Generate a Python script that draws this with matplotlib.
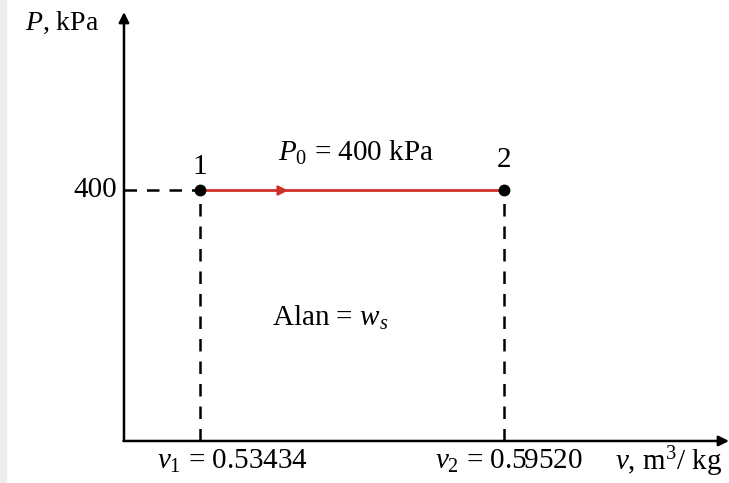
import matplotlib.pyplot as plt

plt.rcParams['font.family'] = ['Liberation Serif', 'DejaVu Serif']
plt.rcParams['mathtext.fontset'] = 'custom'
plt.rcParams['mathtext.rm'] = 'Liberation Serif'
plt.rcParams['mathtext.it'] = 'Liberation Serif:italic'

# state points
v_states = [0.53434, 0.59520]
P_states = [400, 400]
state_names = ['1', '2']
P0 = 400

v_origin = 0.51912
v_lo, v_hi = 0.49430, 0.64025
P_lo, P_hi = -67.1, 704.2

fig = plt.figure(figsize=(7.29, 4.83), dpi=100)
ax = fig.add_axes([0, 0, 1, 1])
ax.set_xlim(v_lo, v_hi)
ax.set_ylim(P_lo, P_hi)
ax.axis('off')

# scan edge
fig.patches.append(plt.Rectangle((0, 0), 0.008, 1, transform=fig.transFigure,
                                 color='#ececec', zorder=0))

# axes with arrows
ax.annotate('', xy=(v_origin, 685), xytext=(v_origin, 0),
            arrowprops=dict(arrowstyle='-|>', color='black', lw=1.8,
                            mutation_scale=15, shrinkA=0, shrinkB=0))
ax.annotate('', xy=(v_hi, 0), xytext=(v_origin - 0.0001, 0),
            arrowprops=dict(arrowstyle='-|>', color='black', lw=1.8,
                            mutation_scale=15, shrinkA=0, shrinkB=0))

# dashed guide lines
ax.plot([v_origin, v_states[0]], [P0, P0], '--', color='black', lw=1.8, dashes=(5, 4))
for v, p in zip(v_states, P_states):
    ax.plot([v, v], [0, p], '--', color='black', lw=1.8, dashes=(5, 4))

# process line 1 -> 2
ax.plot(v_states, P_states, color='#d0302a', lw=2)
v_mid = v_states[0] + 0.29 * (v_states[1] - v_states[0])
ax.annotate('', xy=(v_mid, P0), xytext=(v_mid - 0.002, P0),
            arrowprops=dict(arrowstyle='-|>', color='#d0302a', lw=1.5,
                            mutation_scale=15, shrinkA=0, shrinkB=0))
ax.plot(v_states, P_states, 'o', color='black', ms=7.5, zorder=5)

fs = 21
ax.text(v_states[0], 437, state_names[0], ha='center', va='center', fontsize=fs)
ax.text(v_states[1], 448, state_names[1], ha='center', va='center', fontsize=fs)

ax.text(0.51772, P0, '400', ha='right', va='center', fontsize=fs)
ax.text(0.49930, 668, '$\\it{P}$, kPa', ha='left', va='center', fontsize=20)
ax.text(0.55000, 460, '$P_0$ = 400 kPa', ha='left', va='center', fontsize=fs)
ax.text(0.56037, 196, 'Alan = $w_s$', ha='center', va='center', fontsize=fs)

ax.text(0.52573, -33, '$v_1$ = 0.53434', ha='left', va='center', fontsize=fs)
ax.text(0.58139, -33, '$v_2$ = 0.59520', ha='left', va='center', fontsize=fs)
ax.text(0.61742, -33, '$v$, m$^3$/ kg', ha='left', va='center', fontsize=fs)

fig.savefig('out.png', dpi=100)
